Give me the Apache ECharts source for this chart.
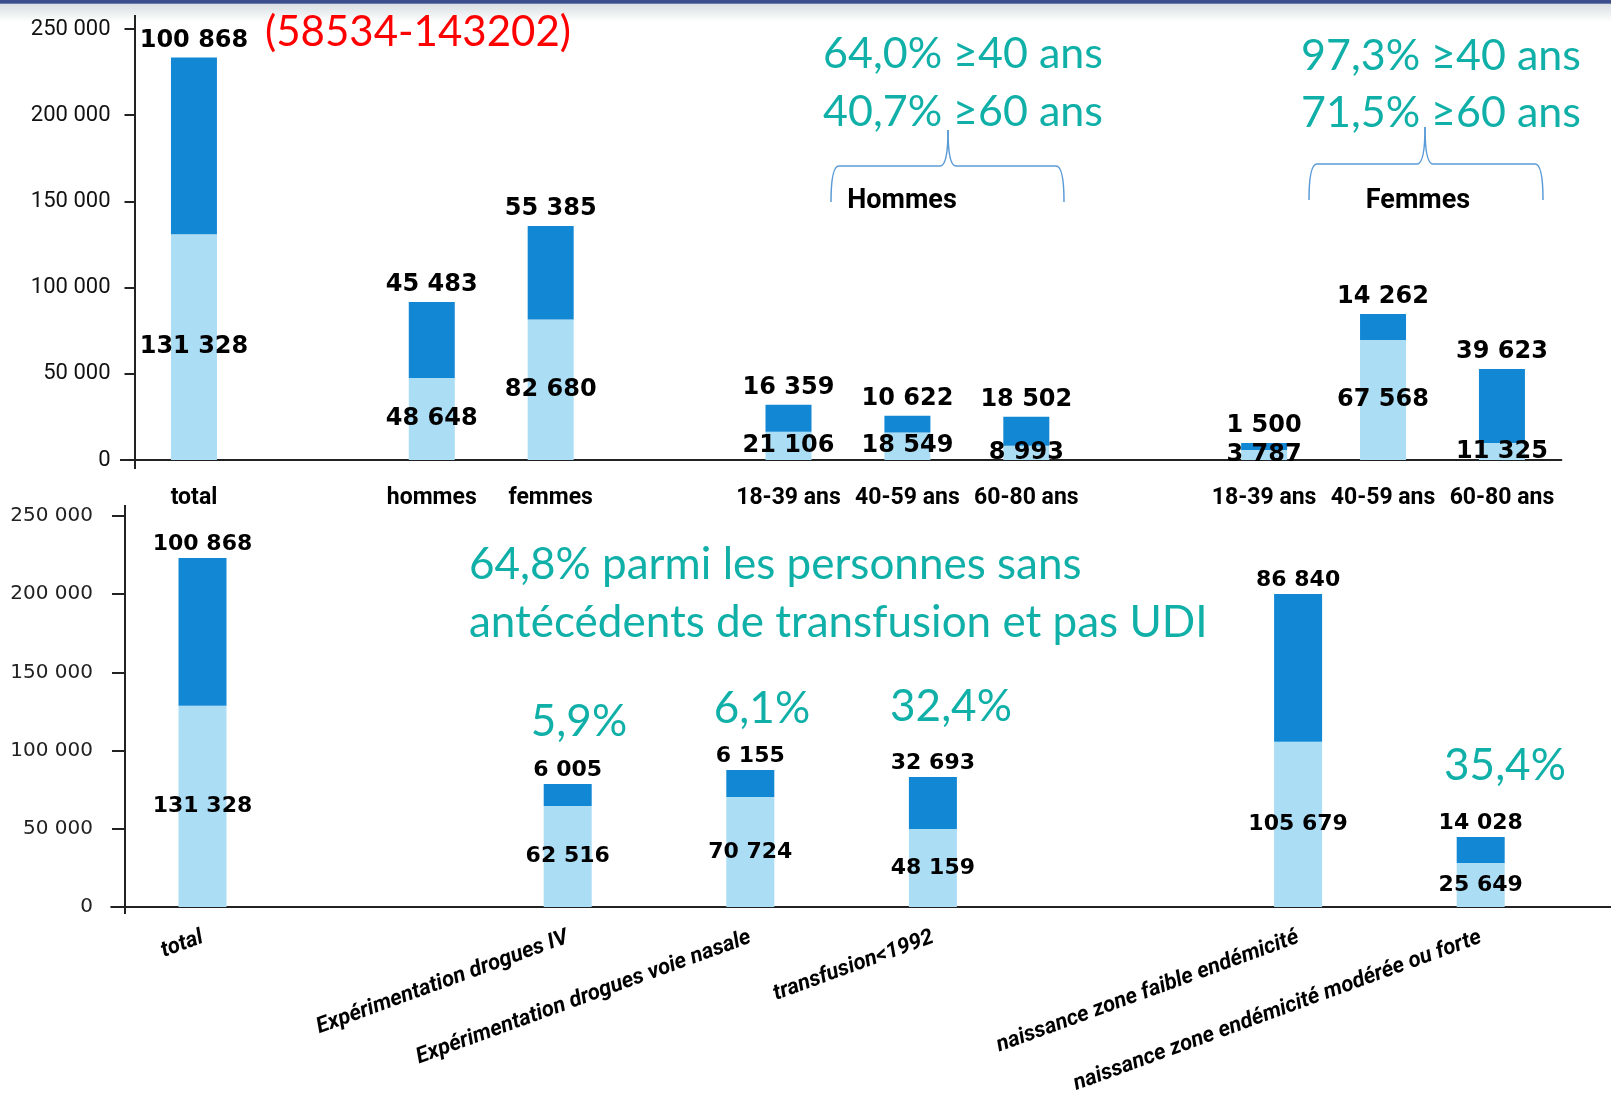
<!DOCTYPE html>
<html>
<head>
<meta charset="utf-8">
<title>VHC</title>
<script src="https://cdn.jsdelivr.net/npm/echarts@6/dist/echarts.min.js"></script>
<style>
    html, body { margin: 0; padding: 0; background: #fff; }
    #main { width: 1611px; height: 1094px; }
</style>
</head>
<body>
<div id="main"></div>
<script>
// top panel: total, sexe, age by sexe (empty slots are gaps)
var topCategories = ['total', '', 'hommes', 'femmes', '', '18-39 ans', '40-59 ans', '60-80 ans', '', '18-39 ans', '40-59 ans', '60-80 ans'];
var topLight = [131000, null, 47600, 81500, null, 16400, 16000, 8300, null, 5800, 69600, 9900];
var topDark = [102500, null, 44100, 54300, null, 15700, 9700, 16800, null, 4000, 15100, 42900];
var topLightLabels = ['131 328', '', '48 648', '82 680', '', '21 106', '18 549', '8 993', '', '3 787', '67 568', '11 325'];
var topDarkLabels = ['100 868', '', '45 483', '55 385', '', '16 359', '10 622', '18 502', '', '1 500', '14 262', '39 623'];

// bottom panel: facteurs de risque
var bottomCategories = ['total', '', 'Expérimentation drogues IV', 'Expérimentation drogues voie nasale', 'transfusion<1992', '', 'naissance zone faible endémicité', 'naissance zone endémicité modérée ou forte'];
var bottomLight = [128700, null, 64600, 70300, 49900, null, 105700, 28100];
var bottomDark = [94400, null, 14000, 17300, 33200, null, 94400, 16700];
var bottomLightLabels = ['131 328', '', '62 516', '70 724', '48 159', '', '105 679', '25 649'];
var bottomDarkLabels = ['100 868', '', '6 005', '6 155', '32 693', '', '86 840', '14 028'];

var yTicks = { min: 0, max: 250000, interval: 50000 };

var LIGHT = '#abddf5';
var DARK = '#1288d4';
var TEAL = '#10b0a8';
var NARROW = "Roboto, 'Liberation Sans', sans-serif";
var CALIBRI = "Lato, 'Open Sans', sans-serif";

function fmt(v) {
    return String(v).replace(/\B(?=(\d{3})+(?!\d))/g, ' ');
}

function barSeries(name, stack, axis, data, color, labels, labelOpt, width) {
    return {
        name: name,
        type: 'bar',
        stack: stack,
        xAxisIndex: axis,
        yAxisIndex: axis,
        data: data,
        barWidth: width,
        itemStyle: { color: color },
        label: Object.assign({
            show: true,
            color: '#000',
            formatter: function(p) {
                return labels[p.dataIndex];
            }
        }, labelOpt)
    };
}

function txt(text, x, y, size, color, align, family, weight) {
    return {
        type: 'text',
        x: x,
        y: y,
        z: 50,
        style: {
            text: text,
            fontSize: size,
            fontFamily: family || CALIBRI,
            fontWeight: weight || 'normal',
            fill: color,
            align: align || 'center',
            verticalAlign: 'middle'
        }
    };
}

function brace(x0, x1, xm, yh, ytop, ytip) {
    var st = { stroke: '#5b9bd5', lineWidth: 1.5, fill: null };
    return [
        { type: 'bezierCurve', shape: { x1: x0, y1: ytip, cpx1: x0, cpy1: yh, x2: x0 + 8, y2: yh }, style: st },
        { type: 'line', shape: { x1: x0 + 8, y1: yh, x2: xm - 8, y2: yh }, style: st },
        { type: 'bezierCurve', shape: { x1: xm - 8, y1: yh, cpx1: xm, cpy1: yh, x2: xm, y2: ytop }, style: st },
        { type: 'bezierCurve', shape: { x1: xm, y1: ytop, cpx1: xm, cpy1: yh, x2: xm + 8, y2: yh }, style: st },
        { type: 'line', shape: { x1: xm + 8, y1: yh, x2: x1 - 8, y2: yh }, style: st },
        { type: 'bezierCurve', shape: { x1: x1 - 8, y1: yh, cpx1: x1, cpy1: yh, x2: x1, y2: ytip }, style: st }
    ];
}

function axisLine(x1, y1, x2, y2) {
    return { type: 'line', z: 40, shape: { x1: x1, y1: y1, x2: x2, y2: y2 }, style: { stroke: '#222', lineWidth: 2 } };
}

var chart = echarts.init(document.getElementById('main'));

var topValueLabel = { fontFamily: "'DejaVu Sans', sans-serif", fontWeight: 'bold', fontSize: 24 };
var bottomValueLabel = { fontFamily: "'DejaVu Sans', Verdana, sans-serif", fontWeight: 'bold', fontSize: 22 };

var graphics = [
    {
        type: 'rect', shape: { x: 0, y: 0, width: 1611, height: 22 },
        style: {
            fill: new echarts.graphic.LinearGradient(0, 0, 0, 1, [
                { offset: 0, color: '#3c4d8e' },
                { offset: 0.14, color: '#3c4d8e' },
                { offset: 0.2, color: '#d9dfe2' },
                { offset: 1, color: '#ffffff' }
            ])
        }
    },
    axisLine(120, 460, 135, 460),
    axisLine(135, 15, 135, 30),
    axisLine(135, 460, 135, 469),
    axisLine(125, 505, 125, 517),
    axisLine(125, 907, 125, 914),
    axisLine(1571, 907, 1611, 907),
    txt('(58534-143202)', 418, 32, 42, '#ff0000'),
    txt('64,0% \u226540 ans', 963, 54, 43, TEAL),
    txt('40,7% \u226560 ans', 963, 112, 43, TEAL),
    txt('97,3% \u226540 ans', 1441, 56, 43, TEAL),
    txt('71,5% \u226560 ans', 1441, 113, 43, TEAL),
    txt('Hommes', 902, 201, 27, '#000', 'center', NARROW, 'bold'),
    txt('Femmes', 1418, 201, 27, '#000', 'center', NARROW, 'bold'),
    txt('64,8% parmi les personnes sans', 469, 565, 44, TEAL, 'left'),
    txt('antécédents de transfusion et pas UDI', 469, 623, 44, TEAL, 'left'),
    txt('5,9%', 579, 722, 44, TEAL),
    txt('6,1%', 762, 709, 44, TEAL),
    txt('32,4%', 951, 707, 44, TEAL),
    txt('35,4%', 1505, 766, 44, TEAL)
];
graphics = graphics.concat(brace(831, 1064, 948, 166, 130, 202));
graphics = graphics.concat(brace(1309, 1543, 1425, 164, 127, 200));

var option = {
    animation: false,
    backgroundColor: '#fff',
    grid: [
        { left: 134.5, right: 49.6, top: 29, bottom: 634, outerBoundsMode: 'none' },
        { left: 111.2, right: 39, top: 516, bottom: 187, outerBoundsMode: 'none' }
    ],
    xAxis: [
        {
            type: 'category', gridIndex: 0, data: topCategories,
            axisLine: { lineStyle: { color: '#222', width: 2 } },
            axisTick: { show: false },
            axisLabel: { interval: 0, margin: 27, color: '#000', fontFamily: NARROW, fontWeight: 'bold', fontSize: 23 }
        },
        {
            type: 'category', gridIndex: 1, data: bottomCategories,
            axisLine: { lineStyle: { color: '#222', width: 2 } },
            axisTick: { show: false },
            axisLabel: { interval: 0, rotate: 20, margin: 30, color: '#000', fontFamily: NARROW, fontWeight: 'bold', fontStyle: 'italic', fontSize: 22 }
        }
    ],
    yAxis: [
        {
            type: 'value', gridIndex: 0, min: yTicks.min, max: yTicks.max, interval: yTicks.interval,
            axisLine: { show: true, lineStyle: { color: '#222', width: 2 } },
            axisTick: { show: true, length: 10, lineStyle: { color: '#222', width: 2 } },
            splitLine: { show: false },
            axisLabel: { margin: 24, color: '#111', fontFamily: NARROW, fontSize: 22, formatter: fmt }
        },
        {
            type: 'value', gridIndex: 1, offset: -13.8, min: yTicks.min, max: yTicks.max, interval: yTicks.interval,
            axisLine: { show: true, lineStyle: { color: '#222', width: 2 } },
            axisTick: { show: true, length: 13, lineStyle: { color: '#222', width: 2 } },
            splitLine: { show: false },
            axisLabel: { margin: 32, color: '#222', fontFamily: "'DejaVu Sans', sans-serif", fontSize: 20, formatter: fmt }
        }
    ],
    series: [
        barSeries('top-light', 'top', 0, topLight, LIGHT, topLightLabels, Object.assign({ position: 'inside' }, topValueLabel), 46),
        barSeries('top-dark', 'top', 0, topDark, DARK, topDarkLabels, Object.assign({ position: 'top', distance: 5 }, topValueLabel), 46),
        barSeries('bottom-light', 'bottom', 1, bottomLight, LIGHT, bottomLightLabels, Object.assign({ position: 'inside' }, bottomValueLabel), 48),
        barSeries('bottom-dark', 'bottom', 1, bottomDark, DARK, bottomDarkLabels, Object.assign({ position: 'top', distance: 3 }, bottomValueLabel), 48)
    ],
    graphic: graphics
};

chart.setOption(option);
</script>
</body>
</html>
